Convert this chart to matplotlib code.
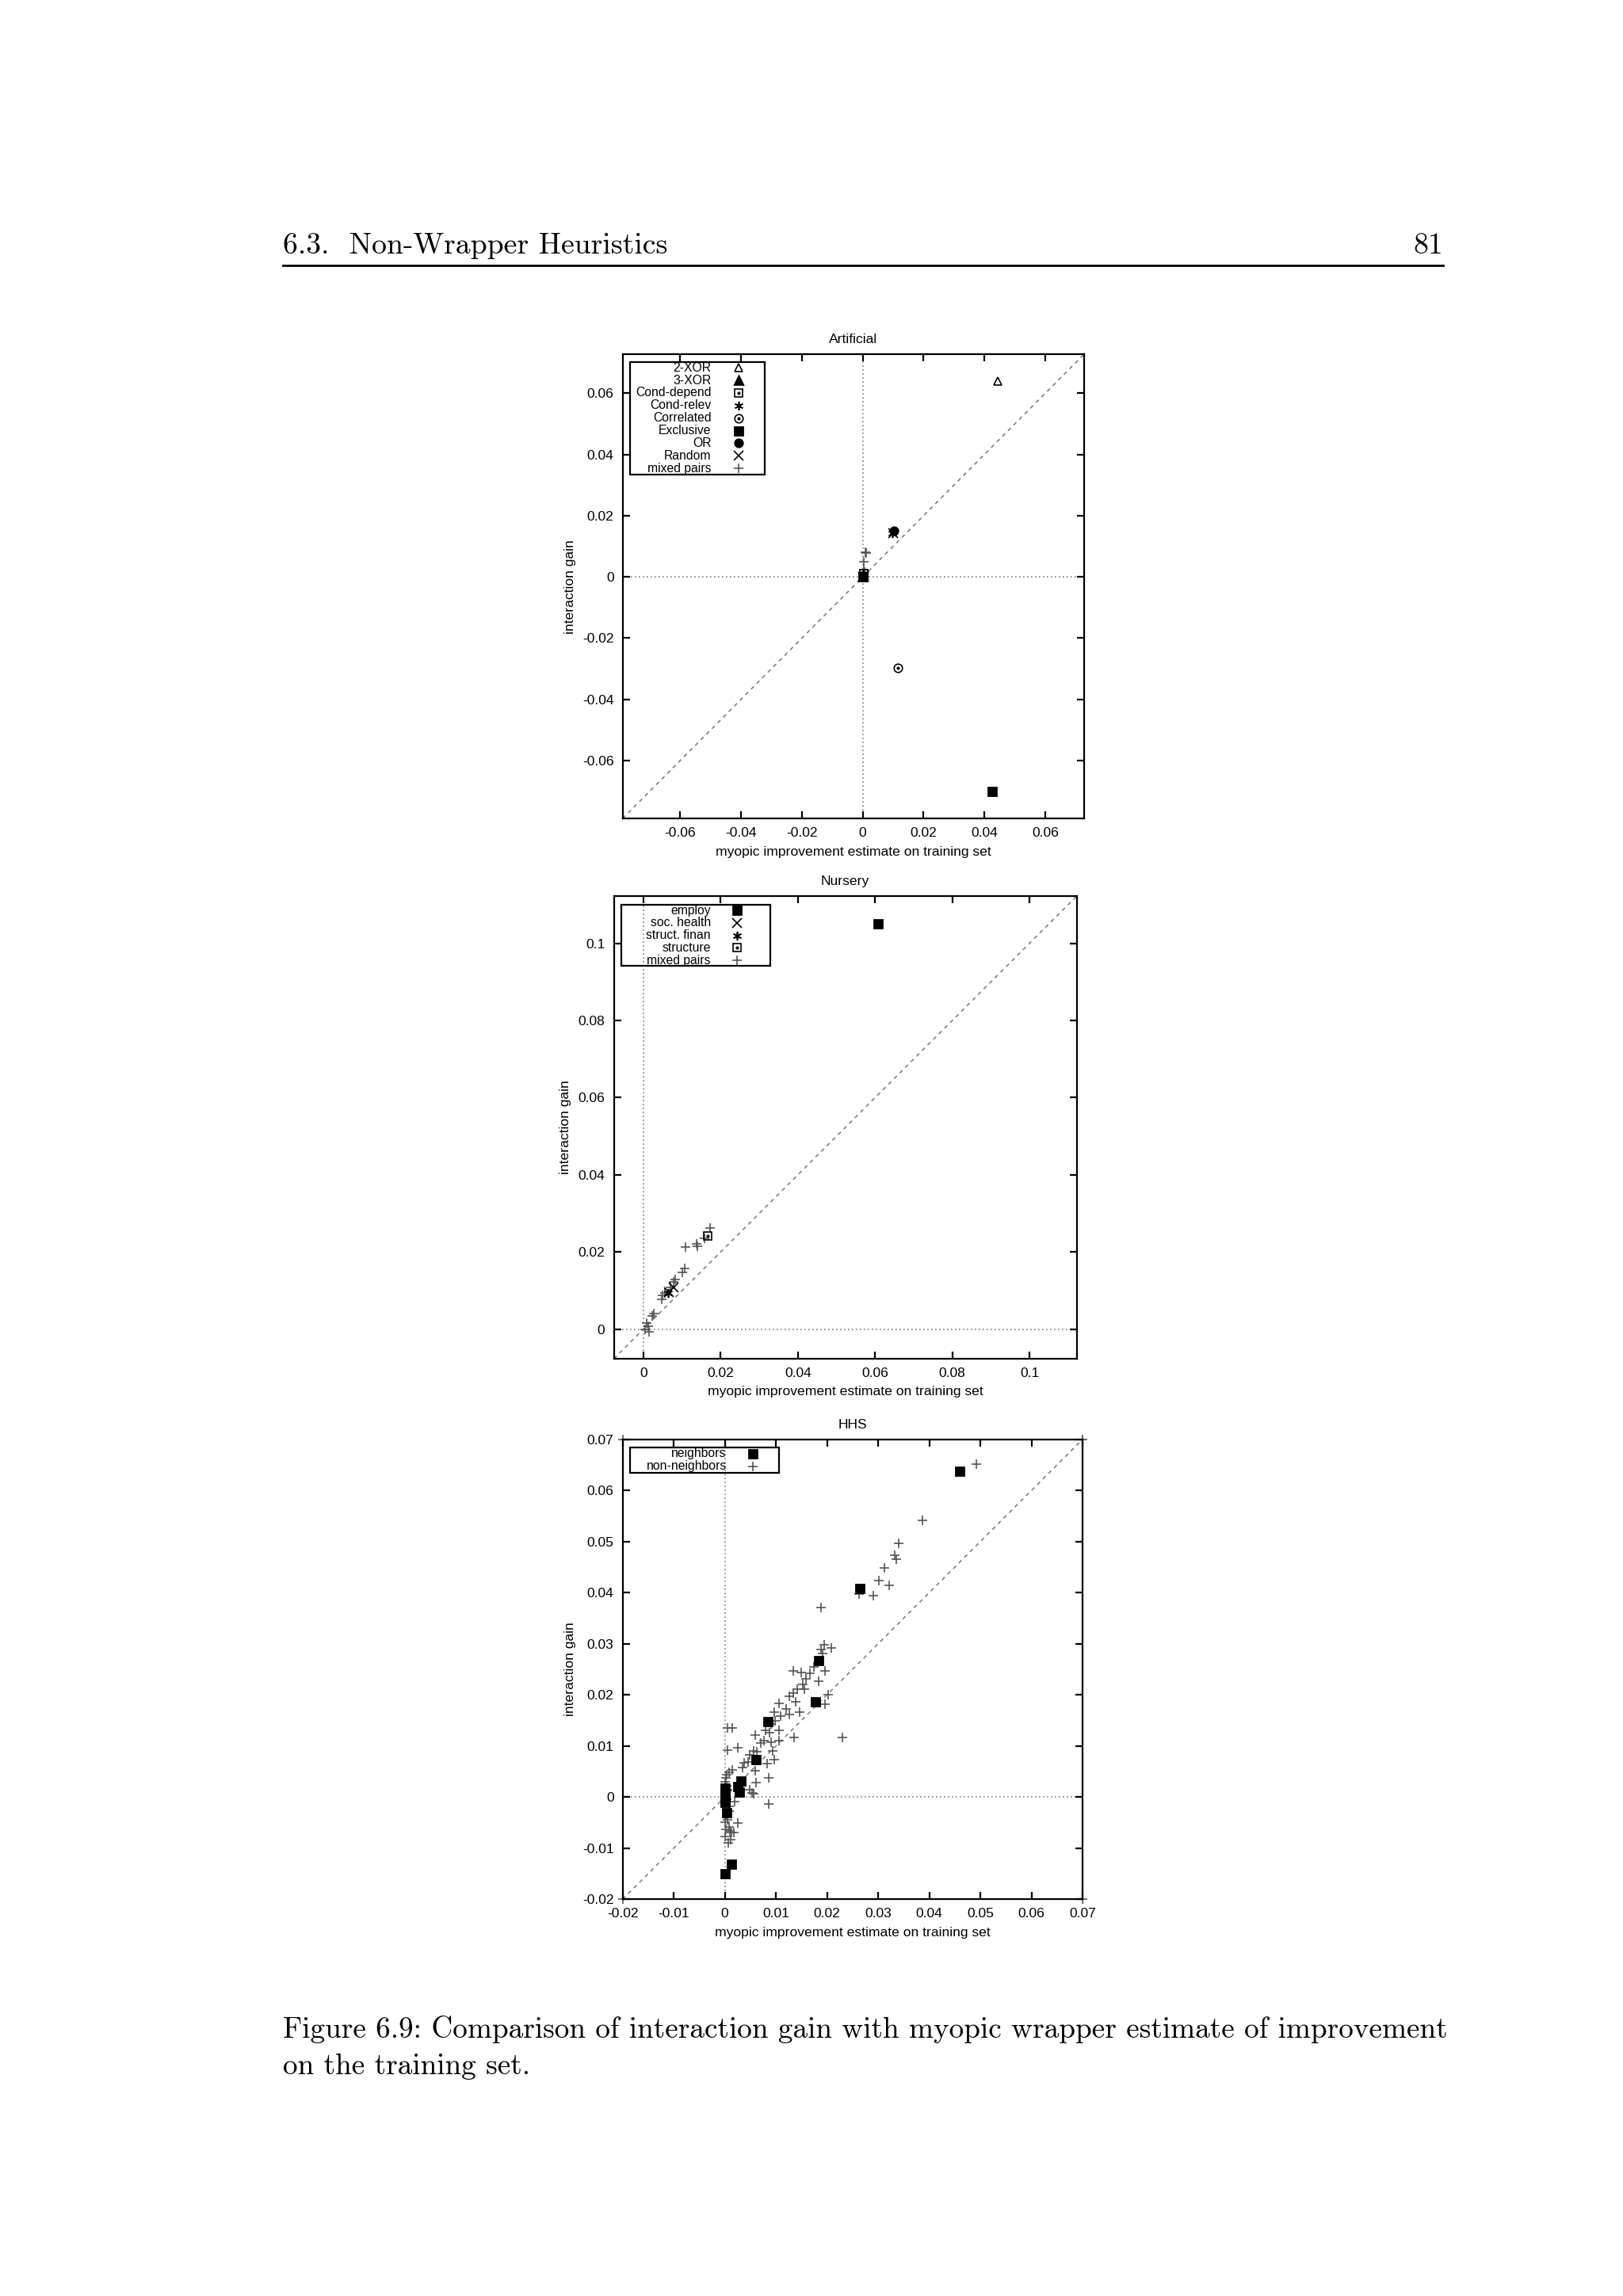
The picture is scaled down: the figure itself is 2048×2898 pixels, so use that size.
import matplotlib
matplotlib.use("Agg")
import matplotlib.pyplot as plt
from matplotlib.patches import Rectangle

plt.rcParams['font.family'] = ['Liberation Sans', 'DejaVu Sans']
plt.rcParams['axes.unicode_minus'] = False

# ---- Artificial data ----
xor2_x = [0.0443]
xor2_y = [0.0640]
xor3_x = [0.0002]
xor3_y = [0.0006]
cond_depend_x = [0.0004]
cond_depend_y = [0.0012]
cond_relev_x = [0.0098]
cond_relev_y = [0.0142]
correlated_x = [0.0115]
correlated_y = [-0.0298]
exclusive_x = [0.0426, 0.0]
exclusive_y = [-0.0700, 0.0001]
or_x = [0.0103]
or_y = [0.0151]
random_x = [0.0001, 0.0100]
random_y = [0.0, 0.0144]
art_mixed_x = [0.0009, 0.0012, 0.0004, 0.0004, 0.0006]
art_mixed_y = [0.0081, 0.0078, 0.0050, 0.0024, 0.0016]
art_lim = (-0.0789, 0.0727)
art_ticks = [-0.06, -0.04, -0.02, 0, 0.02, 0.04, 0.06]

# ---- Nursery data ----
employ_x = [0.0608]
employ_y = [0.1051]
soc_health_x = [0.0078, 0.0066]
soc_health_y = [0.0108, 0.0095]
struct_finan_x = [0.0064]
struct_finan_y = [0.0093]
structure_x = [0.0167]
structure_y = [0.0242]
nur_mixed_x = [0.0172, 0.0158, 0.0137, 0.0139, 0.0108, 0.0106, 0.0100, 0.0083, 0.0078,
               0.0069, 0.0055, 0.0050, 0.0048, 0.0026, 0.0022, 0.0008, 0.0012, 0.0003, 0.0015]
nur_mixed_y = [0.0262, 0.0235, 0.0220, 0.0215, 0.0213, 0.0158, 0.0146, 0.0129, 0.0123,
               0.0107, 0.0093, 0.0087, 0.0078, 0.0040, 0.0034, 0.0016, 0.0007, 0.0000, -0.0007]
nur_lim = (-0.0077, 0.1122)
nur_ticks = [0, 0.02, 0.04, 0.06, 0.08, 0.1]

# ---- HHS data ----
neigh_x = [0.0459, 0.0264, 0.0184, 0.0178, 0.0085, 0.0061, 0.0032, 0.0026, 0.0029,
           0.0, 0.0, 0.0, 0.0, 0.0003, 0.0013, 0.0001]
neigh_y = [0.0638, 0.0408, 0.0267, 0.0187, 0.0147, 0.0074, 0.0031, 0.0020, 0.0010,
           0.0017, 0.0006, -0.0004, -0.0011, -0.0030, -0.0131, -0.0150]
nonneigh_x = [0.0492, 0.0386, 0.0341, 0.0332, 0.0336, 0.0312, 0.0302, 0.0321, 0.0291, 0.0262,
              0.0188, 0.0195, 0.0209, 0.0191, 0.0189, 0.0134, 0.0150, 0.0174, 0.0196, 0.0167,
              0.0159, 0.0183, 0.0152, 0.0141, 0.0156, 0.0134, 0.0127, 0.0202, 0.0138, 0.0196,
              0.0106, 0.0120, 0.0146, 0.0097, 0.0127, 0.0109, 0.0099, 0.0091, 0.0014, 0.0006,
              0.0079, 0.0088, 0.0106, 0.0059, 0.0136, 0.0230, 0.0077, 0.0091, 0.0106, 0.0070,
              0.0025, 0.0006, 0.0094, 0.0056, 0.0063, 0.0097, 0.0049, 0.0045, 0.0038, 0.0083,
              0.0034, 0.0060, 0.0014, 0.0009, 0.0004, 0.0086, 0.0061, 0.0049, 0.0054, 0.0056,
              0.0020, 0.0086, 0.0009, 0.0006, 0.0025, 0.0002, 0.0009, 0.0013, 0.0000, 0.0011,
              0.0007, 0.0018, 0.0002, 0.0000, 0.0003, 0.0006, 0.0000, 0.0004, 0.0008, 0.0003,
              0.0000, 0.0010, -0.02, 0.07, -0.02, 0.07]
nonneigh_y = [0.0651, 0.0542, 0.0496, 0.0474, 0.0466, 0.0449, 0.0423, 0.0415, 0.0394, 0.0398,
              0.0371, 0.0298, 0.0292, 0.0281, 0.0288, 0.0247, 0.0244, 0.0254, 0.0247, 0.0242,
              0.0231, 0.0226, 0.0220, 0.0211, 0.0211, 0.0204, 0.0197, 0.0201, 0.0187, 0.0182,
              0.0183, 0.0173, 0.0167, 0.0166, 0.0161, 0.0159, 0.0149, 0.0143, 0.0136, 0.0135,
              0.0131, 0.0126, 0.0131, 0.0121, 0.0116, 0.0116, 0.0110, 0.0108, 0.0110, 0.0106,
              0.0097, 0.0092, 0.0091, 0.0091, 0.0088, 0.0074, 0.0083, 0.0069, 0.0067, 0.0065,
              0.0057, 0.0051, 0.0053, 0.0048, 0.0044, 0.0038, 0.0028, 0.0015, 0.0008, 0.0006,
              -0.0009, -0.0013, -0.0028, -0.0044, -0.0051, -0.0063, -0.0058, -0.0070, -0.0077, -0.0083,
              -0.0089, -0.0070, 0.0038, 0.0030, 0.0022, 0.0014, 0.0008, -0.0005, -0.0018, -0.0036,
              -0.0050, -0.0066, 0.07, 0.07, -0.02, -0.02]
hhs_lim = (-0.02, 0.07)
hhs_ticks = [-0.02, -0.01, 0, 0.01, 0.02, 0.03, 0.04, 0.05, 0.06, 0.07]

FS = 6.3
LFS = 5.7
GREY = '#555555'

def gp_legend(ax, entries, box, text_x, mark_x, top_y, step):
    # gnuplot style key: right aligned label, sample to its right
    ax.add_patch(Rectangle((box[0], box[1]), box[2] - box[0], box[3] - box[1],
                           transform=ax.transAxes, fill=False, ec='black', lw=0.8, zorder=5))
    for i, (label, style) in enumerate(entries):
        y = top_y - i * step
        ax.text(text_x, y, label, transform=ax.transAxes, ha='right', va='center',
                fontsize=LFS, zorder=6)
        ax.plot([mark_x], [y], transform=ax.transAxes, clip_on=False, ls='none',
                zorder=6, **style)
        if style.get('mfc') == 'none' and style.get('marker') != '^':
            ax.plot([mark_x], [y], transform=ax.transAxes, clip_on=False, ls='none',
                    marker='.', ms=1.0, color='black', zorder=6)

def setup(ax, title, lim, ticks):
    ax.set_xlim(lim)
    ax.set_ylim(lim)
    ax.set_xticks(ticks)
    ax.set_yticks(ticks)
    ax.set_xticklabels(['%g' % t for t in ticks])
    ax.set_yticklabels(['%g' % t for t in ticks])
    ax.tick_params(direction='in', top=True, right=True, length=3.4, width=0.8,
                   labelsize=FS, pad=4)
    for s in ax.spines.values():
        s.set_linewidth(0.8)
    ax.axhline(0, ls=(0, (1, 2)), color='grey', lw=0.6, zorder=1)
    ax.axvline(0, ls=(0, (1, 2)), color='grey', lw=0.6, zorder=1)
    ax.plot(lim, lim, color='grey', lw=0.6, ls=(0, (3, 3)), zorder=1)
    ax.set_title(title, fontsize=FS, pad=5)
    ax.set_xlabel('myopic improvement estimate on training set', fontsize=FS, labelpad=3)
    ax.set_ylabel('interaction gain', fontsize=FS, labelpad=3)

fig = plt.figure(figsize=(10.24, 14.49), dpi=200)

# header and caption
serif = ['cmr10', 'DejaVu Serif']
TFS = 13.6
CFS = 13.4
fig.text(0.1742, 0.8895, '6.3.  Non-Wrapper Heuristics', fontsize=TFS, family=serif,
         ha='left', va='baseline')
fig.text(0.889, 0.8895, '81', fontsize=TFS, family=serif, ha='right', va='baseline')
fig.add_artist(plt.Line2D([0.1742, 0.889], [0.8843, 0.8843], color='black', lw=1.0))
fig.text(0.1742, 0.1125, 'Figure 6.9: Comparison of interaction gain with myopic wrapper estimate of improvement',
         fontsize=CFS, family=serif, ha='left', va='baseline')
fig.text(0.1742, 0.0965, 'on the training set.', fontsize=CFS, family=serif,
         ha='left', va='baseline')

# ---- Artificial ----
ax1 = fig.add_axes([0.3836, 0.6435, 0.2843, 0.2022])
setup(ax1, 'Artificial', art_lim, art_ticks)
st = {
    '2-XOR': dict(marker='^', ms=3.6, mfc='none', mec='black', mew=0.6),
    '3-XOR': dict(marker='^', ms=3.4, color='black'),
    'Cond-depend': dict(marker='s', ms=3.6, mfc='none', mec='black', mew=0.6),
    'Cond-relev': dict(marker=(6, 2, 0), ms=4.0, color='black', mew=0.6),
    'Correlated': dict(marker='o', ms=3.8, mfc='none', mec='black', mew=0.6),
    'Exclusive': dict(marker='s', ms=3.4, color='black'),
    'OR': dict(marker='o', ms=3.4, color='black'),
    'Random': dict(marker='x', ms=4.0, color='black', mew=0.6),
    'mixed pairs': dict(marker='+', ms=4.4, color=GREY, mew=0.6),
}
ax1.plot(art_mixed_x, art_mixed_y, ls='none', **st['mixed pairs'])
ax1.plot(xor2_x, xor2_y, ls='none', **st['2-XOR'])
ax1.plot(xor3_x, xor3_y, ls='none', **st['3-XOR'])
ax1.plot(cond_depend_x, cond_depend_y, ls='none', **st['Cond-depend'])
ax1.plot(cond_relev_x, cond_relev_y, ls='none', **st['Cond-relev'])
ax1.plot(correlated_x, correlated_y, ls='none', **st['Correlated'])
ax1.plot(correlated_x, correlated_y, ls='none', marker='.', ms=1.0, color='black')
ax1.plot(exclusive_x, exclusive_y, ls='none', **st['Exclusive'])
ax1.plot(random_x, random_y, ls='none', **st['Random'])
ax1.plot(or_x, or_y, ls='none', **st['OR'])
gp_legend(ax1, list(st.items()), (0.0165, 0.741, 0.3075, 0.983), 0.192, 0.251, 0.971, 0.0271)

# ---- Nursery ----
ax2 = fig.add_axes([0.3782, 0.4082, 0.2852, 0.2015])
setup(ax2, 'Nursery', nur_lim, nur_ticks)
st2 = {
    'employ': dict(marker='s', ms=3.4, color='black'),
    'soc. health': dict(marker='x', ms=4.0, color='black', mew=0.6),
    'struct. finan': dict(marker=(6, 2, 0), ms=4.0, color='black', mew=0.6),
    'structure': dict(marker='s', ms=3.6, mfc='none', mec='black', mew=0.6),
    'mixed pairs': dict(marker='+', ms=4.4, color=GREY, mew=0.6),
}
ax2.plot(nur_mixed_x, nur_mixed_y, ls='none', **st2['mixed pairs'])
ax2.plot(employ_x, employ_y, ls='none', **st2['employ'])
ax2.plot(soc_health_x, soc_health_y, ls='none', **st2['soc. health'])
ax2.plot(struct_finan_x, struct_finan_y, ls='none', **st2['struct. finan'])
ax2.plot(structure_x, structure_y, ls='none', **st2['structure'])
ax2.plot(structure_x, structure_y, ls='none', marker='.', ms=1.0, color='black')
gp_legend(ax2, list(st2.items()), (0.0157, 0.849, 0.3388, 0.982), 0.2094, 0.2667, 0.969, 0.0269)

# ---- HHS ----
ax3 = fig.add_axes([0.3836, 0.1728, 0.2834, 0.2003])
setup(ax3, 'HHS', hhs_lim, hhs_ticks)
st3 = {
    'neighbors': dict(marker='s', ms=3.6, color='black'),
    'non-neighbors': dict(marker='+', ms=4.4, color=GREY, mew=0.6),
}
ax3.plot(nonneigh_x, nonneigh_y, ls='none', clip_on=False, **st3['non-neighbors'])
ax3.plot(neigh_x, neigh_y, ls='none', **st3['neighbors'])
gp_legend(ax3, list(st3.items()), (0.0165, 0.928, 0.3396, 0.982), 0.226, 0.283, 0.969, 0.0274)

fig.savefig('out.png', dpi=200)
